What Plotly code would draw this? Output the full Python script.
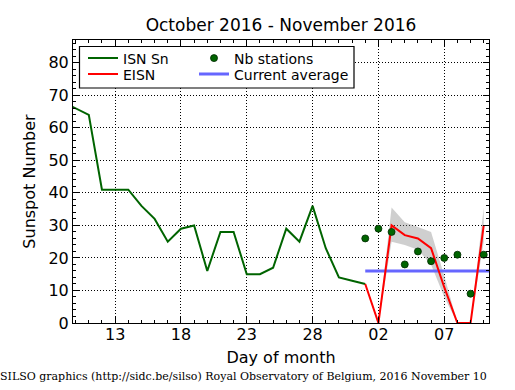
import plotly.graph_objects as go

# ---- data (day index: days since Sep 30, 2016 -> Oct 13 = 13, Nov 2 = 33) ----
isn_days = list(range(9, 33))
isn_values = [68, 66, 64, 41, 41, 41, 36, 32, 25, 29, 30, 16, 28, 28, 15, 15,
              17, 29, 25, 36, 23, 14, 13, 12]

eisn_days = list(range(32, 42))
eisn_values = [12, 0, 30, 27, 26, 23, 11, 0, 0, 30]
eisn_low = [12, 0, 25, 24, 22.5, 18, 8, 0, 0, 25]
eisn_high = [12, 0, 35.5, 31, 29.5, 28, 14.5, 0, 0, 35.5]

stations_days = list(range(32, 42))
stations_values = [26, 29, 28, 18, 22, 19, 20, 21, 9, 21]

current_average = 16
split_day = 31.5

tick_vals = [13, 18, 23, 28, 33, 38]
tick_text = ["13", "18", "23", "28", "02", "07"]

x_range = [9.8, 41.4]
y_range = [0, 87]

# ---- figure ----
L, R, T, B = 73, 26, 40, 67
W, H = 515, 390
pw, ph = W - L - R, H - T - B


def px_x(p):
    return (p - L) / pw


def px_y(p):
    return (H - B - p) / ph


fig = go.Figure()

fig.add_trace(go.Scatter(
    x=eisn_days + eisn_days[::-1],
    y=eisn_high + eisn_low[::-1],
    fill="toself", fillcolor="rgba(128,128,128,0.38)",
    line=dict(width=0), mode="lines", showlegend=False, hoverinfo="skip"))

fig.add_trace(go.Scatter(
    x=[eisn_days[0], x_range[1] + 1], y=[current_average, current_average],
    mode="lines", line=dict(color="#6666ff", width=3),
    name="Current average", legend="legend4"))

fig.add_trace(go.Scatter(
    x=isn_days, y=isn_values, mode="lines",
    line=dict(color="#006400", width=2),
    name="ISN Sn", legend="legend"))

fig.add_trace(go.Scatter(
    x=eisn_days, y=eisn_values, mode="lines",
    line=dict(color="#ff0000", width=2),
    name="EISN", legend="legend2"))

fig.add_trace(go.Scatter(
    x=stations_days, y=stations_values, mode="markers",
    marker=dict(color="#006400", size=7, line=dict(color="#002800", width=0.8)),
    name="Nb stations", legend="legend3"))

fig.add_vline(x=split_day, line=dict(color="black", width=1.3))

axis_common = dict(
    showline=True, linecolor="black", linewidth=1, mirror="ticks",
    ticks="inside", ticklen=6, tickcolor="black", tickwidth=1,
    showgrid=True, gridcolor="black", griddash="1px,2px", gridwidth=0.7,
    zeroline=False, tickfont=dict(size=16, color="black"),
)

fig.update_xaxes(
    **axis_common, range=x_range, tickmode="array",
    tickvals=tick_vals, ticktext=tick_text, ticklabelstandoff=-3,
    minor=dict(tick0=0, dtick=1, ticks="inside", ticklen=3, tickcolor="black", showgrid=False),
    title=dict(text="Day of month", font=dict(size=16, color="black"), standoff=8),
)
fig.update_yaxes(
    **axis_common, range=y_range, tick0=0, dtick=10,
    minor=dict(tick0=0, dtick=2, ticks="inside", ticklen=3, tickcolor="black", showgrid=False),
    title=dict(text="Sunspot Number", font=dict(size=16, color="black"), standoff=8),
)

leg = dict(xanchor="left", yanchor="middle", bgcolor="rgba(0,0,0,0)",
           borderwidth=0, font=dict(size=14, color="black"))

fig.update_layout(
    width=W, height=H,
    margin=dict(l=L, r=R, t=T, b=B),
    paper_bgcolor="white", plot_bgcolor="white",
    font=dict(family="DejaVu Sans", color="black"),
    title=dict(text="October 2016 - November 2016", x=0.5, xref="paper", xanchor="center",
               y=1 - 25 / H, yref="container", yanchor="middle",
               font=dict(size=17, color="black")),
    legend=dict(**leg, x=px_x(83), y=px_y(58.5)),
    legend2=dict(**leg, x=px_x(83), y=px_y(74.5)),
    legend3=dict(**leg, x=px_x(194), y=px_y(58.5)),
    legend4=dict(**leg, x=px_x(194), y=px_y(74.5)),
    shapes=[dict(type="rect", xref="paper", yref="paper",
                 x0=px_x(79.5), x1=px_x(354), y0=px_y(88), y1=px_y(46.5),
                 fillcolor="white", line=dict(color="black", width=1.2), layer="above")],
    annotations=[dict(
        text="SILSO graphics (http://sidc.be/silso) Royal Observatory of Belgium, 2016 November 10",
        xref="paper", yref="paper", x=1.0, y=px_y(376), xanchor="right", yanchor="middle",
        showarrow=False, font=dict(family="DejaVu Serif", size=11, color="black"))],
)

fig.write_html("out.html", config={"displayModeBar": False},
               post_script="document.body.style.margin='0';")
